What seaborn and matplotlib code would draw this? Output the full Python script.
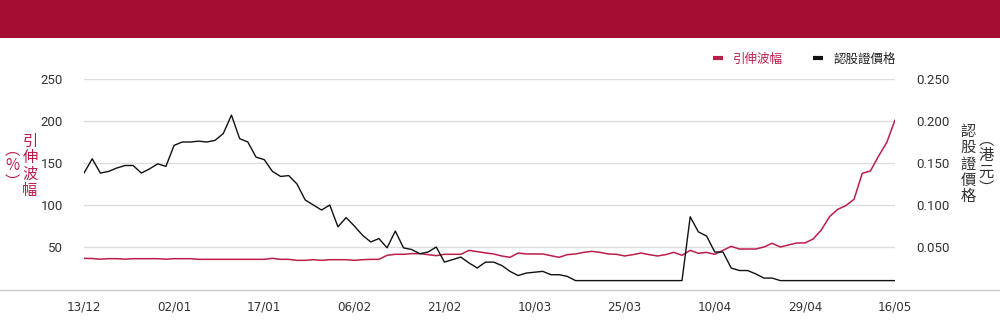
import matplotlib
matplotlib.use("Agg")
import matplotlib.pyplot as plt
import seaborn as sns
import pandas as pd
from matplotlib import font_manager
from matplotlib.lines import Line2D
from matplotlib.patches import Rectangle

# ---------------- data ----------------
x_labels = ["13/12", "02/01", "17/01", "06/02", "21/02", "10/03", "25/03", "10/04", "29/04", "16/05"]
x_label_index = [0, 11, 22, 33, 44, 55, 66, 77, 88, 99]

implied_vol = [
    36.5, 36.3, 35.5, 36.1, 36.1, 35.5, 36.1, 36.1, 36.1, 36.1,
    35.5, 36.1, 36.1, 36.1, 35.3, 35.3, 35.3, 35.3, 35.3, 35.3,
    35.3, 35.3, 35.3, 36.5, 35.3, 35.3, 34.1, 34.1, 34.9, 34.1,
    34.9, 34.9, 34.9, 34.1, 34.9, 35.3, 35.3, 40.1, 41.3, 41.3,
    42.1, 42.1, 40.9, 39.7, 41.3, 41.3, 41.3, 46.0, 44.5, 43.0,
    41.7, 39.3, 37.7, 42.8, 41.7, 41.7, 41.7, 39.7, 37.7, 40.9,
    41.7, 43.6, 44.8, 43.6, 41.7, 41.3, 39.3, 40.9, 42.8, 40.9,
    39.3, 40.9, 43.6, 40.1, 46.0, 42.5, 43.6, 41.3, 46.0, 50.8,
    47.6, 47.6, 47.6, 50.0, 54.4, 50.0, 52.4, 54.8, 54.8, 59.5,
    70.2, 86.0, 94.8, 99.2, 106.8, 137.7, 140.5, 158.3, 174.6, 201.2,
]

warrant_price = [
    0.138, 0.155, 0.138, 0.140, 0.144, 0.147, 0.147, 0.138, 0.143, 0.149,
    0.146, 0.171, 0.175, 0.175, 0.176, 0.175, 0.177, 0.185, 0.207, 0.179,
    0.175, 0.157, 0.154, 0.140, 0.134, 0.135, 0.125, 0.106, 0.100, 0.094,
    0.100, 0.074, 0.085, 0.075, 0.064, 0.056, 0.060, 0.049, 0.069, 0.049,
    0.047, 0.042, 0.044, 0.050, 0.032, 0.035, 0.038, 0.031, 0.025, 0.032,
    0.032, 0.028, 0.021, 0.016, 0.019, 0.020, 0.021, 0.017, 0.017, 0.015,
    0.010, 0.010, 0.010, 0.010, 0.010, 0.010, 0.010, 0.010, 0.010, 0.010,
    0.010, 0.010, 0.010, 0.010, 0.086, 0.068, 0.063, 0.044, 0.044, 0.025,
    0.022, 0.022, 0.018, 0.013, 0.013, 0.010, 0.010, 0.010, 0.010, 0.010,
    0.010, 0.010, 0.010, 0.010, 0.010, 0.010, 0.010, 0.010, 0.010, 0.010,
]

left_ticks = [50, 100, 150, 200, 250]
right_ticks = [0.050, 0.100, 0.150, 0.200, 0.250]

series_vol = "引伸波幅"
series_price = "認股證價格"
left_label_main = "引伸波幅"
left_label_unit = "︵%︶"
right_label_main = "認股證價格"
right_label_unit = "︵港元︶"

# ---------------- style ----------------
sns.set_theme(style="white")
CJK = ["Noto Sans CJK TC", "DejaVu Sans"]
plt.rcParams["font.family"] = CJK

def has_font(name):
    try:
        font_manager.findfont(name, fallback_to_default=False)
        return True
    except Exception:
        return False

narrow = "Liberation Sans Narrow" if has_font("Liberation Sans Narrow") else "DejaVu Sans"
num_font = "Roboto" if has_font("Roboto") else "DejaVu Sans"

RED = "#BC1D4A"
HEADER = "#A50E33"
TXT = "#333333"
GRID = "#dddddd"

W, H = 1000, 324
fig = plt.figure(figsize=(W / 100, H / 100), dpi=100)
fig.patch.set_facecolor("white")

# header band
fig.patches.append(Rectangle((0, (H - 38) / H), 1, 38 / H, transform=fig.transFigure,
                             facecolor=HEADER, edgecolor="none", zorder=0))

ax_l, ax_r, ax_b, ax_t = 84, 895, 289, 79
ax = fig.add_axes([ax_l / W, (H - ax_b) / H, (ax_r - ax_l) / W, (ax_b - ax_t) / H])
ax2 = ax.twinx()

df = pd.DataFrame({"idx": range(len(implied_vol)), "vol": implied_vol, "price": warrant_price})

sns.lineplot(data=df, x="idx", y="vol", ax=ax, color=RED, lw=1.1, zorder=3)
sns.lineplot(data=df, x="idx", y="price", ax=ax2, color="#111111", lw=1.0, zorder=3)

ax.set_xlim(0, len(implied_vol) - 1)
ax.set_ylim(0, 250)
ax2.set_ylim(0, 0.25)

ax.set_yticks(left_ticks)
ax.set_yticklabels([str(v) for v in left_ticks])
ax2.set_yticks(right_ticks)
ax2.set_yticklabels([f"{v:.3f}" for v in right_ticks])
ax.set_xticks(x_label_index)
ax.set_xticklabels(x_labels)

ax.grid(axis="y", color=GRID, lw=1)
ax.grid(axis="x", visible=False)
ax2.grid(False)
ax.set_xlabel("")
ax.set_ylabel("")
ax2.set_ylabel("")
for a in (ax, ax2):
    for s in a.spines.values():
        s.set_visible(False)
    a.set_facecolor("none")

ax.tick_params(axis="y", length=0, pad=15, labelsize=9.5, labelcolor=TXT)
ax2.tick_params(axis="y", length=0, pad=15, labelsize=9.5, labelcolor=TXT)
ax.tick_params(axis="x", length=0, pad=8, labelsize=9.5, labelcolor=TXT)
for lab in ax.get_yticklabels() + ax2.get_yticklabels():
    lab.set_fontfamily(num_font)
for lab in ax.get_xticklabels():
    lab.set_fontfamily(narrow)
    lab.set_fontstretch("condensed")

# full-width baseline
fig.lines.append(Line2D([0, 1], [(H - 289.5) / H] * 2, transform=fig.transFigure,
                        color="#cccccc", lw=1))

# vertical axis titles
def vcol(x, y, s, color):
    fig.text(x / W, (H - y) / H, "\n".join(s), ha="center", va="center",
             fontsize=11, color=color, linespacing=0.95, family=CJK)

vcol(30, 166, left_label_main, RED)
vcol(12, 166, left_label_unit, RED)
vcol(968, 164, right_label_main, TXT)
vcol(986, 164, right_label_unit, TXT)

# legend
handles = [Line2D([], [], color=RED, lw=3, solid_capstyle="butt"),
           Line2D([], [], color="#111111", lw=3, solid_capstyle="butt")]
leg = fig.legend(handles, [series_vol, series_price], loc="center right",
                 bbox_to_anchor=(907 / W, (H - 59) / H), ncol=2, frameon=False,
                 handlelength=0.8, handletextpad=0.8, columnspacing=2.4,
                 prop={"family": CJK, "size": 9})
leg.get_texts()[0].set_color(RED)
leg.get_texts()[1].set_color("#222222")

fig.savefig("out.png", dpi=100)
